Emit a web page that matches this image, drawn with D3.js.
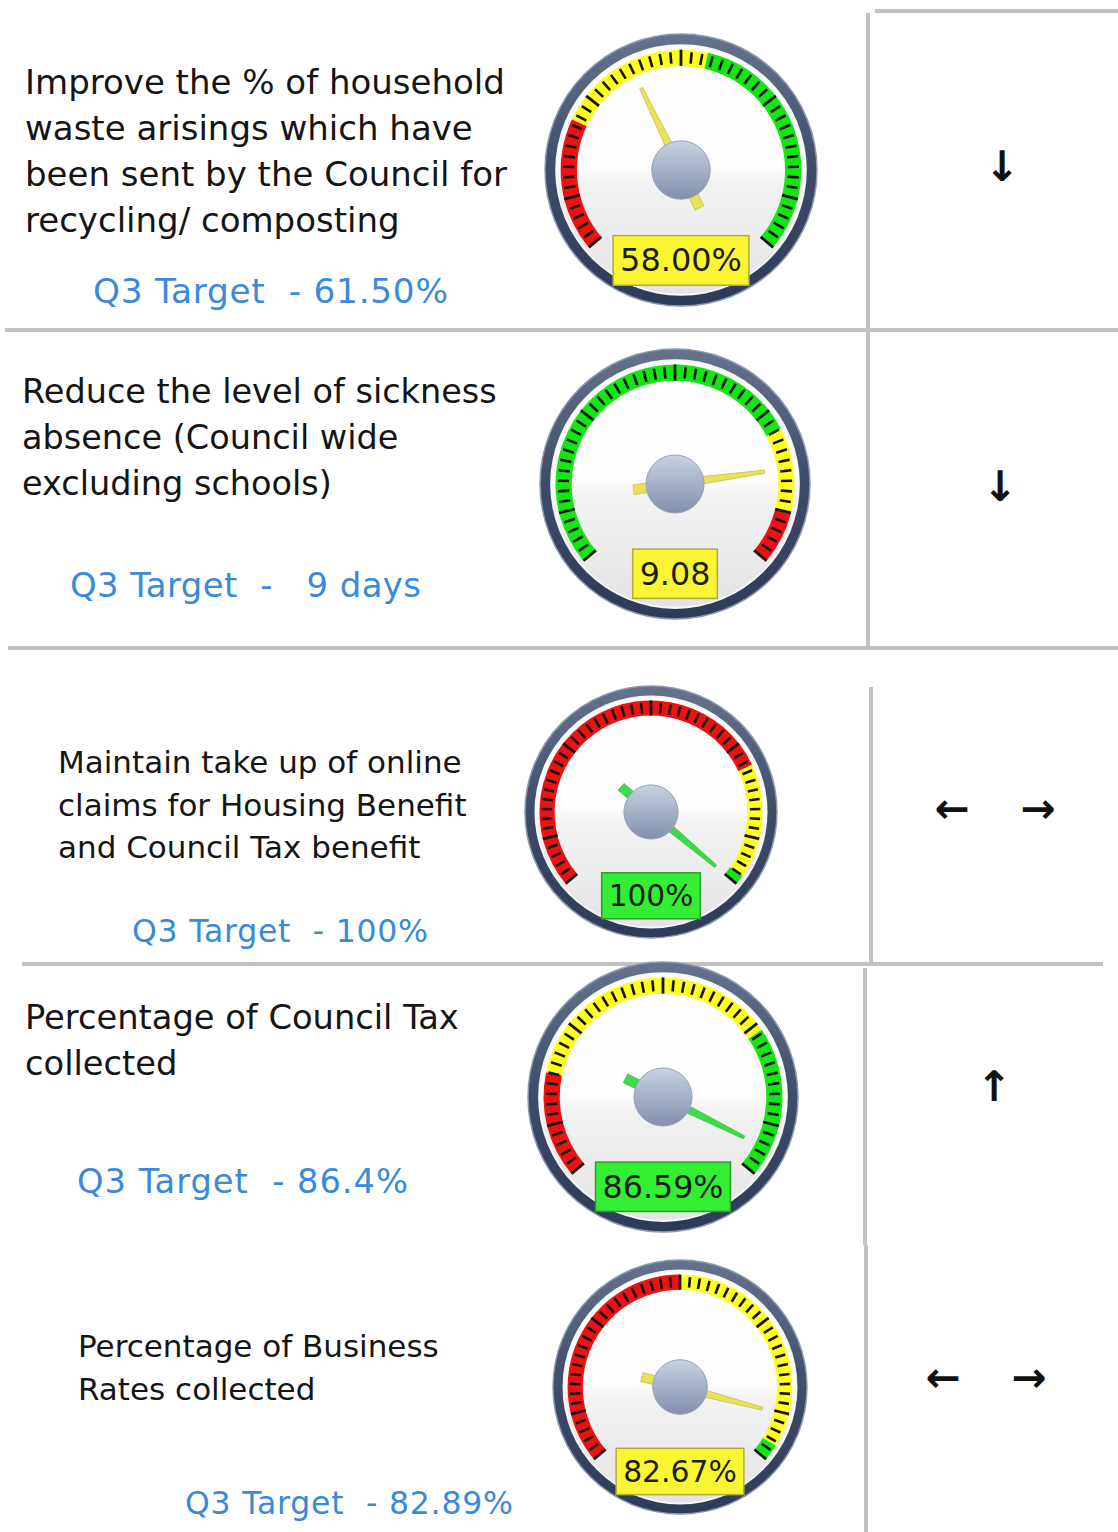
<!DOCTYPE html>
<html>
<head>
<meta charset="utf-8">
<script src="https://cdn.jsdelivr.net/npm/d3@7"></script>
<style>
  body { margin: 0; background: #fff; }
  svg { display: block; }
  text { font-family: "DejaVu Sans", Verdana, sans-serif; }
</style>
</head>
<body>
<div id="chart"></div>
<script>
// KPI rows
const kpiText = [
  ["Improve the % of household", "waste arisings which have", "been sent by the Council for", "recycling/ composting"],
  ["Reduce the level of sickness", "absence (Council wide", "excluding schools)"],
  ["Maintain take up of online", "claims for Housing Benefit", "and Council Tax benefit"],
  ["Percentage of Council Tax", "collected"],
  ["Percentage of Business", "Rates collected"]
];
const targetText = ["Q3 Target  - 61.50%", "Q3 Target  -   9 days", "Q3 Target  - 100%", "Q3 Target  - 86.4%", "Q3 Target  - 82.89%"];
const actualValues = [58.00, 9.08, 100, 86.59, 82.67];
const actualLabels = ["58.00%", "9.08", "100%", "86.59%", "82.67%"];
const scaleMin = [50, 5, 0, 70, 79.6];
const scaleMax = [70, 10, 100, 87.5, 83];
const bandBreaks = [[55, 61], [8.7, 9.5], [75, 98], [73.5, 82.5], [81.3, 82.89]];
const bandOrder = [
  ["red", "yellow", "green"],
  ["green", "yellow", "red"],
  ["red", "yellow", "green"],
  ["red", "yellow", "green"],
  ["red", "yellow", "green"]
];
const trendArrows = [["↓"], ["↓"], ["←", "→"], ["↑"], ["←", "→"]];

const width = 1118;
const height = 1532;

// where things sit on the page
const gaugePos = [
  {cx: 681, cy: 170, r: 136},
  {cx: 675, cy: 484, r: 135},
  {cx: 651, cy: 812, r: 126},
  {cx: 663, cy: 1097, r: 135},
  {cx: 680, cy: 1387, r: 127}
];
const textPos = [
  {x: 25, y: 94, dy: 46, size: 34, tx: 93, ty: 303, tsize: 34.3, tlen: 355},
  {x: 22, y: 403, dy: 46, size: 33.5, tx: 70, ty: 597, tsize: 33.9, tlen: 351},
  {x: 58, y: 773, dy: 42.5, size: 31, tx: 132, ty: 942, tsize: 31.5, tlen: 296},
  {x: 25, y: 1029, dy: 46, size: 33.7, tx: 77, ty: 1193, tsize: 33.7, tlen: 331},
  {x: 78, y: 1357, dy: 43, size: 31, tx: 185, ty: 1514, tsize: 31.5, tlen: 328}
];
const arrowPos = [
  [{x: 1002, y: 166}],
  [{x: 1000, y: 486}],
  [{x: 952, y: 808}, {x: 1038, y: 808}],
  [{x: 994, y: 1086}],
  [{x: 943, y: 1377}, {x: 1029, y: 1377}]
];

const bandColour = {red: '#ee1111', yellow: '#ffff1e', green: '#14e614'};
const boxFill = {yellow: '#f9f533', green: '#33ee33'};
const boxStroke = {yellow: '#b0aa3c', green: '#2a9e2a'};
const needleFill = {yellow: '#e8e256', green: '#3cdc48'};

const svg = d3.select('#chart')
  .append('svg')
  .attr('width', width)
  .attr('height', height)
  .attr('viewBox', [0, 0, width, height]);

const defs = svg.append('defs');

function vGrad(id, stops) {
  const g = defs.append('linearGradient').attr('id', id)
    .attr('x1', 0).attr('y1', 0).attr('x2', 0).attr('y2', 1);
  stops.forEach(s => g.append('stop').attr('offset', s[0]).attr('stop-color', s[1]));
}
vGrad('ring', [[0, '#66738d'], [0.5, '#3f4c69'], [1, '#2e3b58']]);
vGrad('face', [[0, '#ffffff'], [0.48, '#fdfdfd'], [0.55, '#f3f3f3'], [1, '#e4e4e4']]);
vGrad('hub', [[0, '#c9d2e2'], [0.6, '#9eaac2'], [1, '#8490ab']]);

// grid lines of the table
const gridLines = [
  [875, 11, 1118, 11],
  [868, 13, 868, 328],
  [5, 330, 1118, 330],
  [868, 332, 868, 646],
  [8, 648, 1118, 648],
  [868, 640, 868, 648],
  [871, 687, 871, 962],
  [22, 964, 1103, 964],
  [865, 968, 865, 1245],
  [866, 1245, 866, 1532]
];
svg.append('g')
  .attr('stroke', '#c2c2c2')
  .attr('stroke-width', 4)
  .selectAll('line')
  .data(gridLines)
  .join('line')
  .attr('x1', d => d[0]).attr('y1', d => d[1])
  .attr('x2', d => d[2]).attr('y2', d => d[3]);

const rad = deg => deg * Math.PI / 180;

kpiText.forEach((lines, i) => {
  const tp = textPos[i];
  const g = svg.append('g');

  g.selectAll('text.kpi')
    .data(lines)
    .join('text')
    .attr('class', 'kpi')
    .attr('x', tp.x)
    .attr('y', (d, j) => tp.y + j * tp.dy)
    .attr('font-size', tp.size)
    .attr('fill', '#151515')
    .text(d => d);

  g.append('text')
    .attr('x', tp.tx)
    .attr('y', tp.ty)
    .attr('font-size', tp.tsize)
    .attr('fill', '#3a8ad8')
    .attr('textLength', tp.tlen)
    .attr('lengthAdjust', 'spacing')
    .style('white-space', 'pre')
    .text(targetText[i]);

  // gauge
  const p = gaugePos[i];
  const R = p.r;
  const angle = d3.scaleLinear()
    .domain([scaleMin[i], scaleMax[i]])
    .range([-130, 130])
    .clamp(true);

  const gg = svg.append('g').attr('transform', `translate(${p.cx},${p.cy})`);

  gg.append('circle').attr('r', R).attr('fill', 'url(#ring)')
    .attr('stroke', '#8e98ad').attr('stroke-width', 1.5);
  gg.append('circle').attr('r', R * 0.925).attr('fill', '#f7f7f7');
  gg.append('circle').attr('r', R * 0.91).attr('fill', 'url(#face)');

  const stops = [scaleMin[i], ...bandBreaks[i], scaleMax[i]];
  const bands = bandOrder[i].map((c, k) => ({from: stops[k], to: stops[k + 1], colour: c}));

  const arc = d3.arc()
    .innerRadius(R * 0.765)
    .outerRadius(R * 0.885)
    .startAngle(d => rad(angle(d.from)))
    .endAngle(d => rad(angle(d.to)));

  gg.append('g').selectAll('path')
    .data(bands)
    .join('path')
    .attr('d', arc)
    .attr('fill', d => bandColour[d.colour]);

  const tickVals = d3.range(51).map(k => scaleMin[i] + k * (scaleMax[i] - scaleMin[i]) / 50);
  const isMajor = k => k === 0 || k === 50 || (k - 5) % 10 === 0;
  gg.append('g').selectAll('line')
    .data(tickVals)
    .join('line')
    .each(function(v, k) {
      const a = rad(angle(v));
      const r1 = isMajor(k) ? R * 0.765 : R * 0.785;
      const r2 = isMajor(k) ? R * 0.885 : R * 0.868;
      d3.select(this)
        .attr('x1', r1 * Math.sin(a)).attr('y1', -r1 * Math.cos(a))
        .attr('x2', r2 * Math.sin(a)).attr('y2', -r2 * Math.cos(a))
        .attr('stroke', '#141414')
        .attr('stroke-width', isMajor(k) ? 2.8 : 2.6);
    });

  // status colour = band the actual value falls in
  const v = actualValues[i];
  const band = bands.find(b => v >= b.from && v <= b.to) || bands[bands.length - 1];
  const status = band.colour;

  const L = R * 0.67, T = R * 0.31;
  const needle = d3.path();
  needle.moveTo(-R * 0.012, -L);
  needle.lineTo(R * 0.012, -L);
  needle.lineTo(R * 0.034, 0);
  needle.lineTo(R * 0.036, T);
  needle.lineTo(-R * 0.036, T);
  needle.lineTo(-R * 0.034, 0);
  needle.closePath();

  gg.append('path')
    .attr('d', needle.toString())
    .attr('transform', `rotate(${angle(v)})`)
    .attr('fill', needleFill[status])
    .attr('stroke', d3.color(needleFill[status]).darker(0.6))
    .attr('stroke-width', 0.6);

  gg.append('circle').attr('r', R * 0.215).attr('fill', 'url(#hub)')
    .attr('stroke', '#97a2b9').attr('stroke-width', 1);

  const fs = R * 0.235;
  const boxH = R * 0.365;
  const by = R * 0.665;
  const box = gg.append('rect');
  const label = gg.append('text')
    .attr('x', 0)
    .attr('y', by)
    .attr('text-anchor', 'middle')
    .attr('dominant-baseline', 'central')
    .attr('font-size', fs)
    .attr('fill', '#1e1e1e')
    .text(actualLabels[i]);
  const tw = label.node().getComputedTextLength();
  box.attr('x', -tw / 2 - 7)
    .attr('y', by - boxH / 2)
    .attr('width', tw + 14)
    .attr('height', boxH)
    .attr('fill', boxFill[status])
    .attr('stroke', boxStroke[status])
    .attr('stroke-width', 1.5);

  // trend arrows
  svg.append('g').selectAll('text')
    .data(trendArrows[i])
    .join('text')
    .attr('x', (d, k) => arrowPos[i][k].x)
    .attr('y', (d, k) => arrowPos[i][k].y)
    .attr('text-anchor', 'middle')
    .attr('dominant-baseline', 'central')
    .attr('font-size', 42)
    .attr('font-weight', 'bold')
    .attr('fill', '#111')
    .text(d => d);
});
</script>
</body>
</html>
